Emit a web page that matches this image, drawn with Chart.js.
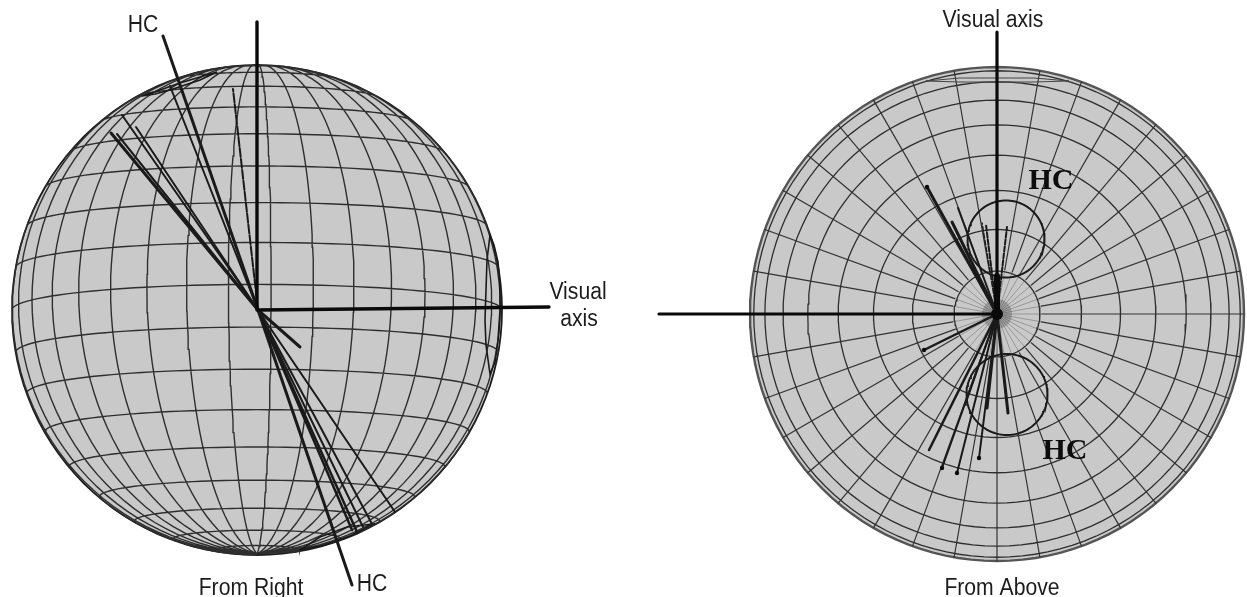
<!DOCTYPE html>
<html>
<head>
<meta charset="utf-8">
<title>Visual axis and HC, from right and from above</title>
<script src="https://cdn.jsdelivr.net/npm/chart.js@4/dist/chart.umd.js"></script>
<style>
    html, body { margin: 0; padding: 0; background: #fff; }
    #chart { display: block; filter: blur(0.35px); }
</style>
</head>
<body>
<canvas id="chart" width="1247" height="597"></canvas>
<script>
// left sphere graticule, degrees
const latitudes = [-80, -70, -60, -50, -40, -30, -20, -10, 0, 10, 20, 30, 40, 50, 60, 70, 80];
const longitudes = [-176.7, -166.7, -156.7, -146.7, -136.7, -126.7, -116.7, -106.7, -96.7, -86.7, -76.7, -66.7,
    -56.7, -46.7, -36.7, -26.7, -16.7, -6.7, 3.3, 13.3, 23.3, 33.3, 43.3, 53.3, 63.3, 73.3, 83.3, 93.3];

// right sphere graticule, degrees
const ringColatitudes = [10, 20, 30, 40, 50, 60, 70, 80];
const spokeAngles = [0, 10, 20, 30, 40, 50, 60, 70, 80, 90, 100, 110, 120, 130, 140, 150, 160, 170,
    180, 190, 200, 210, 220, 230, 240, 250, 260, 270, 280, 290, 300, 310, 320, 330, 340, 350];

// gaze directions
const leftAxisX = [[257, 257], [258, 549]];
const leftAxisY = [[22, 310], [310, 307]];
const leftRayX = [163, 170, 233, 122, 136, 111, 117, 300, 352, 395, 372, 357, 352, 363];
const leftRayY = [36, 86, 89, 115, 127, 133, 134, 347, 585, 512, 524, 532, 530, 527];

// gaze directions
const rightAxisX = [[997, 997], [659, 997], [997, 997]];
const rightAxisY = [[32, 314], [314, 314], [276, 314]];
const rightRayX = [927, 958, 952, 986, 1007, 982, 924, 929, 942, 957, 979, 987, 1008, 965];
const rightRayY = [187, 208, 222, 225, 227, 223, 350, 450, 468, 473, 458, 408, 413, 405];

// HC regions seen edge-on in the left view
const hcTopX = [142, 155, 170, 185, 200, 217, 200, 180, 160, 142];
const hcTopY = [96, 94, 90, 85, 80, 72, 77, 83, 90, 96];
const hcRightX = [490, 487, 486, 485, 486, 490, 495, 498, 500, 500, 498, 494, 490];
const hcRightY = [235, 260, 290, 320, 345, 374, 362, 340, 310, 285, 262, 245, 235];
const hcBottomX = [300, 320, 347, 373, 350, 325, 300];
const hcBottomY = [550, 537, 527, 524, 536, 545, 550];

// HC regions in the right view
const hcCircleX = [1006, 1007];
const hcCircleY = [239, 394.5];
const hcCircleR = [38.5, 40.5];
const hcChordX = [926, 960, 997, 1034, 1069, 1034, 997, 960, 926];
const hcChordY = [81, 82, 82, 82, 81, 78, 78, 78, 81];

const labelTexts = ['HC', 'Visual', 'axis', 'HC', 'From Right', 'Visual axis', 'From Above', 'HC', 'HC'];
const labelX = [143, 578, 579, 372, 251, 993, 1002, 1051, 1065];
const labelY = [26, 293, 320, 585, 589, 21, 589, 181, 451];

// drawing setup
const L = { cx: 257, cy: 310, r: 245, tilt: 6 };
const R = { cx: 997, cy: 314, r: 247 };
const INK = '#1a1a1a';
const MESH = '#2e2e2e';
const leftRayWidths = [3, 2, 2, 2, 2, 3, 2, 3, 3, 2, 2, 2.5, 2.5, 2];
const rightRayWidths = [3, 2, 3, 2, 2, 1.5, 2.5, 2.5, 2, 2, 2, 3, 3, 2];
const leftRayDash = { 2: [9, 2] };
const rightRayDash = { 3: [5, 2], 4: [5, 2], 5: [5, 2] };
const rightRayDots = [0, 6, 8, 9, 10];
const SANS = '23px "Liberation Sans"';
const SERIF = 'bold 30px "Liberation Serif"';
const labelFonts = [SANS, SANS, SANS, SANS, SANS, SANS, SANS, SERIF, SERIF];

const rad = d => d * Math.PI / 180;

// orthographic projection of the left sphere, NaN when on the far side
function project(lat, lon) {
    const X = Math.cos(rad(lat)) * Math.sin(rad(lon));
    const Y = Math.sin(rad(lat));
    const Z = Math.cos(rad(lat)) * Math.cos(rad(lon));
    const t = rad(L.tilt);
    const y2 = Y * Math.cos(t) + Z * Math.sin(t);
    const z2 = Z * Math.cos(t) - Y * Math.sin(t);
    if (z2 < 0) return { x: NaN, y: NaN };
    return { x: L.cx + L.r * X, y: L.cy - L.r * y2 };
}

function circlePoints(cx, cy, r) {
    const pts = [];
    for (let a = 0; a <= 360; a += 3) {
        pts.push({ x: cx + r * Math.cos(rad(a)), y: cy + r * Math.sin(rad(a)) });
    }
    return pts;
}

function zipPoints(xs, ys) {
    return xs.map((x, i) => ({ x: x, y: ys[i] }));
}

function lineSet(data, color, width, order, extra) {
    return Object.assign({
        data: data,
        showLine: true,
        borderColor: color,
        borderWidth: width,
        pointRadius: 0,
        tension: 0,
        fill: false,
        order: order,
        borderCapStyle: 'round'
    }, extra || {});
}

// left mesh, one dataset with gaps between the curves
const leftMesh = [];
latitudes.forEach(lat => {
    for (let lon = -180; lon <= 180; lon += 3) leftMesh.push(project(lat, lon));
    leftMesh.push({ x: NaN, y: NaN });
});
longitudes.forEach(lon => {
    for (let lat = -90; lat <= 90; lat += 3) leftMesh.push(project(lat, lon));
    leftMesh.push({ x: NaN, y: NaN });
});

// right mesh
const rightRings = [];
ringColatitudes.forEach(c => {
    rightRings.push(...circlePoints(R.cx, R.cy, R.r * Math.sin(rad(c))));
    rightRings.push({ x: NaN, y: NaN });
});
const rightSpokesOuter = [];
const rightSpokesInner = [];
spokeAngles.forEach(a => {
    const c = Math.cos(rad(a)), s = Math.sin(rad(a));
    rightSpokesInner.push({ x: R.cx, y: R.cy }, { x: R.cx + 45 * c, y: R.cy + 45 * s }, { x: NaN, y: NaN });
    rightSpokesOuter.push({ x: R.cx + 45 * c, y: R.cy + 45 * s }, { x: R.cx + R.r * c, y: R.cy + R.r * s }, { x: NaN, y: NaN });
});

const datasets = [
    lineSet(circlePoints(L.cx, L.cy, L.r), '#1e1e1e', 1.8, 20, { fill: 'shape', backgroundColor: '#c9c9c9' }),
    lineSet(leftMesh, MESH, 1.4, 15),
    lineSet(circlePoints(R.cx, R.cy, R.r), '#555555', 2.4, 20, { fill: 'shape', backgroundColor: '#c9c9c9' }),
    lineSet(rightRings, MESH, 1.3, 15),
    lineSet(rightSpokesOuter, '#333333', 1.2, 15),
    lineSet(rightSpokesInner, '#8a8a8a', 0.8, 15),
    lineSet(zipPoints(hcTopX, hcTopY), INK, 1.6, 10),
    lineSet(zipPoints(hcRightX, hcRightY), INK, 1.6, 10),
    lineSet(zipPoints(hcBottomX, hcBottomY), INK, 1.6, 10),
    lineSet(zipPoints(hcChordX, hcChordY), '#444444', 1, 10)
];

hcCircleX.forEach((x, i) => {
    datasets.push(lineSet(circlePoints(x, hcCircleY[i], hcCircleR[i]), INK, 2, 10));
});
leftAxisX.forEach((xs, i) => {
    datasets.push(lineSet(zipPoints(xs, leftAxisY[i]), '#0a0a0a', 3.4, 1));
});
leftRayX.forEach((x, i) => {
    datasets.push(lineSet([{ x: L.cx + 1, y: L.cy }, { x: x, y: leftRayY[i] }], INK, leftRayWidths[i], 2,
        { borderDash: leftRayDash[i] || [] }));
});
rightAxisX.forEach((xs, i) => {
    datasets.push(lineSet(zipPoints(xs, rightAxisY[i]), '#0a0a0a', i === 2 ? 6 : 3.2, 1));
});
rightRayX.forEach((x, i) => {
    datasets.push(lineSet([{ x: R.cx, y: R.cy }, { x: x, y: rightRayY[i] }], INK, rightRayWidths[i], 2,
        { borderDash: rightRayDash[i] || [] }));
});
// end dots on some rays
datasets.push({
    data: rightRayDots.map(i => ({ x: rightRayX[i], y: rightRayY[i] })),
    showLine: false,
    pointRadius: 2.2,
    backgroundColor: '#0a0a0a',
    borderWidth: 0,
    order: 0
});
// dark blot where the rays meet, with a soft grey halo
datasets.push({
    data: [{ x: R.cx, y: R.cy }],
    showLine: false,
    pointRadius: 6,
    backgroundColor: '#0a0a0a',
    borderWidth: 0,
    order: 0
});
datasets.push({
    data: [{ x: R.cx, y: R.cy }],
    showLine: false,
    pointRadius: 15,
    backgroundColor: 'rgba(50, 50, 50, 0.28)',
    borderWidth: 0,
    order: 12
});

const labelPlugin = {
    id: 'labels',
    afterDatasetsDraw(chart) {
        const ctx = chart.ctx;
        labelTexts.forEach((text, i) => {
            const isSans = labelFonts[i] === SANS;
            ctx.save();
            ctx.translate(chart.scales.x.getPixelForValue(labelX[i]), chart.scales.y.getPixelForValue(labelY[i]));
            // the sans labels in the original are a bit condensed
            if (isSans) ctx.scale(0.92, 1);
            ctx.textAlign = 'center';
            ctx.textBaseline = 'middle';
            ctx.fillStyle = isSans ? '#1c1c1c' : '#0c0c0c';
            ctx.font = labelFonts[i];
            ctx.fillText(text, 0, 0);
            ctx.restore();
        });
    }
};

new Chart(document.getElementById('chart').getContext('2d'), {
    type: 'scatter',
    data: { datasets: datasets },
    plugins: [labelPlugin],
    options: {
        responsive: false,
        animation: false,
        layout: { padding: 0, autoPadding: false },
        plugins: {
            legend: { display: false },
            title: { display: false },
            tooltip: { enabled: false }
        },
        scales: {
            x: { type: 'linear', min: 0, max: 1247, display: false },
            y: { type: 'linear', min: 0, max: 597, reverse: true, display: false }
        }
    }
});
</script>
</body>
</html>
